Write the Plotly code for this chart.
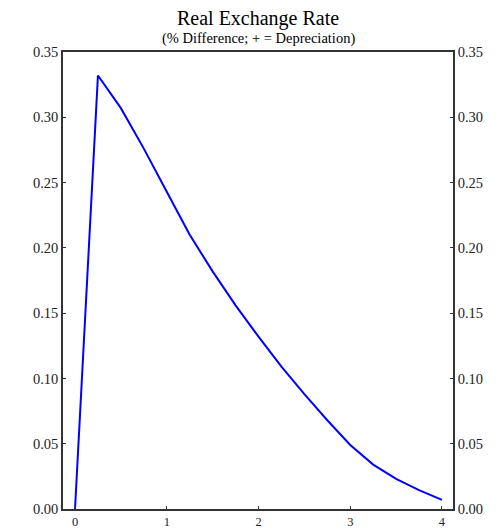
import plotly.graph_objects as go

quarters = [0, 0.25, 0.5, 0.75, 1.0, 1.25, 1.5, 1.75, 2.0, 2.25, 2.5, 2.75, 3.0, 3.25, 3.5, 3.75, 4.0]
real_exchange_rate = [0.0, 0.332, 0.307, 0.276, 0.243, 0.210, 0.182, 0.156, 0.132, 0.109, 0.088, 0.068,
                      0.049, 0.034, 0.023, 0.0145, 0.007]
y_ticks = [0.00, 0.05, 0.10, 0.15, 0.20, 0.25, 0.30, 0.35]
y_tick_labels = ["0.00", "0.05", "0.10", "0.15", "0.20", "0.25", "0.30", "0.35"]
x_ticks = [0, 1, 2, 3, 4]
x_tick_labels = ["0", "1", "2", "3", "4"]

FONT = "Liberation Serif, Times New Roman, serif"

fig = go.Figure()
fig.add_trace(go.Scatter(x=quarters, y=real_exchange_rate, mode="lines",
                         line=dict(color="#0000FF", width=2), showlegend=False, hoverinfo="skip"))
fig.add_trace(go.Scatter(x=quarters, y=real_exchange_rate, mode="lines", yaxis="y2",
                         line=dict(color="rgba(0,0,0,0)", width=0), showlegend=False, hoverinfo="skip"))

axis_common = dict(showgrid=False, zeroline=False, linecolor="#333333", linewidth=1.5,
                   ticks="inside", ticklen=3, tickwidth=1, tickcolor="#333333",
                   automargin=False)

fig.update_layout(
    width=498, height=530,
    margin=dict(l=63, r=45, t=52, b=21, autoexpand=False),
    paper_bgcolor="white", plot_bgcolor="white",
    xaxis=dict(range=[-0.131, 4.12], tickvals=x_ticks, ticktext=x_tick_labels,
               mirror=True, showline=True,
               tickfont=dict(family=FONT, size=12.5, color="#222"), **axis_common),
    yaxis=dict(range=[0, 0.35], tickvals=y_ticks, ticktext=y_tick_labels,
               showline=True, side="left",
               tickfont=dict(family=FONT, size=14.5, color="#222"), **axis_common),
    yaxis2=dict(range=[0, 0.35], tickvals=y_ticks, ticktext=y_tick_labels,
                showline=True, side="right", overlaying="y",
                tickfont=dict(family=FONT, size=14.5, color="#222"), **axis_common),
    annotations=[
        dict(text="Real Exchange Rate", xref="paper", yref="paper", x=0.5, y=1,
             yshift=34, xanchor="center", yanchor="middle", showarrow=False,
             font=dict(family=FONT, size=20, color="#000")),
        dict(text="(% Difference; + = Depreciation)", xref="paper", yref="paper", x=0.5, y=1,
             yshift=14, xanchor="center", yanchor="middle", showarrow=False,
             font=dict(family=FONT, size=14.5, color="#000")),
    ],
)

fig.write_html("out.html")
